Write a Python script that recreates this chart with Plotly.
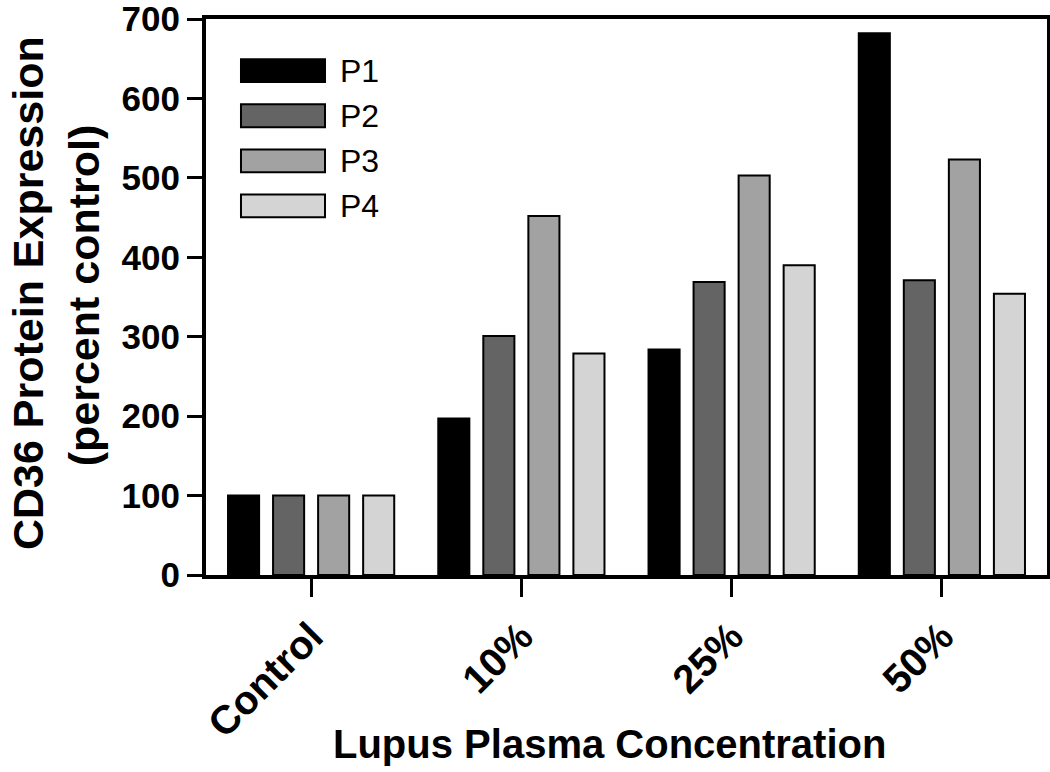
import plotly.graph_objects as go

# datos
categorias = ["Control", "10%", "25%", "50%"]
p1 = [100, 197, 284, 682]
p2 = [100, 301, 369, 371]
p3 = [100, 452, 503, 523]
p4 = [100, 279, 390, 354]
series = ["P1", "P2", "P3", "P4"]
valores = [p1, p2, p3, p4]
colores = ["#000000", "#646464", "#a2a2a2", "#d4d4d4"]

fuente = "Liberation Sans, Arial, Helvetica, sans-serif"

fig = go.Figure()
for nombre, vals, col in zip(series, valores, colores):
    fig.add_trace(go.Bar(
        x=categorias, y=vals, name=nombre,
        marker=dict(color=col, line=dict(color="black", width=2)),
        showlegend=False,
    ))

# leyenda dibujada a mano (cajas anchas como en el original)
for i, (nombre, col) in enumerate(zip(series, colores)):
    yc = 0.907 - i * 0.081
    fig.add_shape(type="rect", xref="paper", yref="paper",
                  x0=0.0416, x1=0.1415, y0=yc - 0.0205, y1=yc + 0.0205,
                  fillcolor=col, line=dict(color="black", width=2))
    fig.add_annotation(text=nombre, xref="paper", yref="paper",
                       x=0.157, y=yc, xanchor="left", yanchor="middle",
                       showarrow=False,
                       font=dict(family=fuente, size=32, color="black"))

# titulo del eje y en dos lineas
fig.add_annotation(text="CD36 Protein Expression", xref="paper", yref="paper",
                   x=0, y=0.507, xshift=-178, xanchor="center", yanchor="middle",
                   textangle=-90, showarrow=False,
                   font=dict(family=fuente, size=43, color="black", weight="bold"))
fig.add_annotation(text="(percent control)", xref="paper", yref="paper",
                   x=0, y=0.503, xshift=-122, xanchor="center", yanchor="middle",
                   textangle=-90, showarrow=False,
                   font=dict(family=fuente, size=43, color="black", weight="bold"))

# titulo del eje x
fig.add_annotation(text="Lupus Plasma Concentration", xref="paper", yref="paper",
                   x=0.48, y=-0.304, xanchor="center", yanchor="middle",
                   showarrow=False,
                   font=dict(family=fuente, size=40, color="black", weight="bold"))

fig.update_layout(
    width=1050, height=772,
    margin=dict(l=206, r=3, t=19, b=197),
    paper_bgcolor="white", plot_bgcolor="white",
    barmode="group", bargap=0.143, bargroupgap=0.31,
    font=dict(family=fuente, color="black"),
)
fig.update_xaxes(
    showline=True, linewidth=4, linecolor="black", mirror=True,
    ticks="outside", ticklen=18, tickwidth=3, tickcolor="black",
    tickangle=-45, showgrid=False, automargin=False,
    tickfont=dict(family=fuente, size=40, color="black", weight="bold"),
)
fig.update_yaxes(
    range=[0, 700], dtick=100,
    showline=True, linewidth=4, linecolor="black", mirror=True,
    ticks="outside", ticklen=15, tickwidth=3, tickcolor="black",
    showgrid=False, zeroline=False, ticklabeloverflow="allow", automargin=False,
    tickfont=dict(family=fuente, size=35, color="black", weight="bold"),
)

# quitar el margen por defecto del body para que la figura ocupe la ventana
fig.write_html("out.html", config={"displayModeBar": False},
               post_script="document.body.style.margin='0';")
